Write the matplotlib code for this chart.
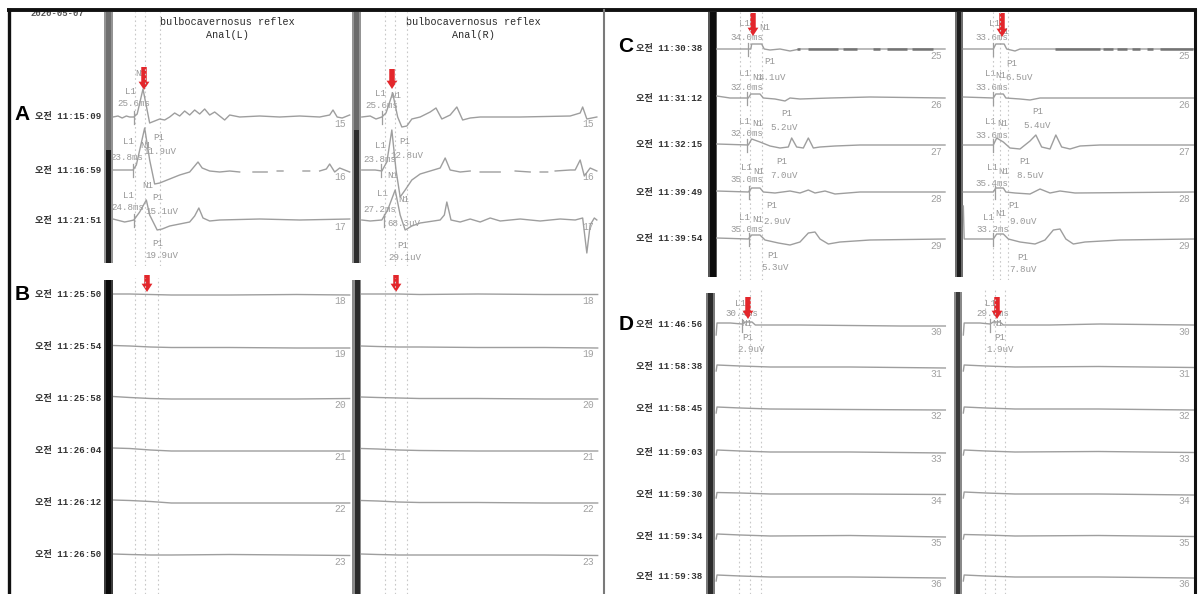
import numpy as np
import matplotlib
matplotlib.use("Agg")
import matplotlib.pyplot as plt
from matplotlib.patches import Rectangle

nan = np.nan

# ======================= DATA =======================
DATE = "2020-05-07"
TITLE = "bulbocavernosus reflex"
SIDES = ["Anal(L)", "Anal(R)"]
PANELS = ["A", "B", "C", "D"]

A_times = ["오전 11:15:09", "오전 11:16:59", "오전 11:21:51"]
B_times = ["오전 11:25:50", "오전 11:25:54", "오전 11:25:58", "오전 11:26:04",
           "오전 11:26:12", "오전 11:26:50"]
C_times = ["오전 11:30:38", "오전 11:31:12", "오전 11:32:15", "오전 11:39:49",
           "오전 11:39:54"]
D_times = ["오전 11:46:56", "오전 11:58:38", "오전 11:58:45", "오전 11:59:03",
           "오전 11:59:30", "오전 11:59:34", "오전 11:59:38"]

A_nums = ["15", "16", "17"]
B_nums = ["18", "19", "20", "21", "22", "23"]
C_nums = ["25", "26", "27", "28", "29"]
D_nums = ["30", "31", "32", "33", "34", "35", "36"]

AL_lat = ["25.6ms", "23.8ms", "24.8ms"]
AL_amp = ["11.9uV", "15.1uV", "19.9uV"]
AR_lat = ["25.6ms", "23.8ms", "27.2ms"]
AR_amp = ["12.8uV", "68.3uV", "29.1uV"]
CL_lat = ["34.0ms", "32.0ms", "32.0ms", "35.0ms", "35.0ms"]
CL_amp = ["4.1uV", "5.2uV", "7.0uV", "2.9uV", "5.3uV"]
CR_lat = ["33.6ms", "33.6ms", "33.6ms", "35.4ms", "33.2ms"]
CR_amp = ["6.5uV", "5.4uV", "8.5uV", "9.0uV", "7.8uV"]
DL_lat = ["30.4ms"]
DL_amp = ["2.9uV"]
DR_lat = ["29.6ms"]
DR_amp = ["1.9uV"]

# waveforms: time (ms) and deflection (display units, up = positive)
AL_t = [
    [0, 6, 11, 16, 20, 25, 29, 36, 44, 50, 56, 62, 68, 74, 80, 86, 92, 98, 104, 110,
     116, 122, 134, 140, 152, 176, 200, 224, 248, 260, 264, 269, 275, 284],
    [0, 14, 24, 28, 38, 44, 50, 56, 68, 80, 92, 98, 102, 107, 116, 128, 140, 152, nan,
     168, 185, nan, 197, 204, nan, 228, 236, nan, 248, 256, 260, 266, 272, 284],
    [0, 14, 20, 25, 32, 40, 44, 53, 59, 68, 80, 92, 98, 103, 108, 116, 128, 176, 224, 284],
]
AL_a = [
    [0, 1, -1, 1, 0, 0, 3, 28, -6, -4, -2, -3, 0, 4, 1, 6, 2, 7, 3, 8,
     2, 5, -3, 2, 0, 1, 0, 1, 0, 2, 7, 0, -1, 2],
    [0, 0, 0, 5, 42, 10, -14, -13, -9, -5, -2, 4, 8, 2, -1, -2, -1, -2, nan,
     -2, -2, nan, -1, -1, nan, -1, -1, nan, -1, 1, 6, -2, 2, -2],
    [1, -2, -1, 0, 8, 20, 5, -10, -9, -6, -4, -2, 4, 12, 2, -1, 0, 1, 0, 1],
]
AR_t = [
    [1, 11, 18, 25, 30, 38, 44, 49, 55, 61, 71, 83, 90, 97, 107, 115, 122, 131, 143, 191,
     251, 263, 266, 271, 283],
    [1, 17, 25, 31, 37, 42, 47, 53, 61, 71, 83, 95, 101, 107, 119, 131, nan, 143, 167, nan,
     185, 203, nan, 215, 224, nan, 233, 251, 257, 263, 268, 275, 283],
    [1, 11, 25, 32, 41, 47, 53, 61, 71, 95, 100, 103, 108, 119, 131, 143, 155, 167, 191, 215,
     239, 257, 266, 271, 275, 280, 283],
]
AR_a = [
    [0, 1, -2, 0, 4, 24, 0, -10, -9, -2, 0, 5, 9, -2, 2, 10, -3, -1, 0, 0,
     1, 4, 10, -2, 0],
    [0, 0, -1, 8, 40, 0, -27, -20, -10, -4, -1, 2, 12, 0, -2, -1, nan, -2, -2, nan,
     -1, -2, nan, -2, -2, nan, -1, 0, 0, 10, -6, 2, -1],
    [0, -1, 0, 10, 30, 5, -10, -6, -3, 0, 5, 18, 0, -2, 1, -2, 2, -1, 1, -1,
     1, 0, 2, -33, -5, 2, 0],
]
B_t = [0, 20, 45, 70, 140, 220, 284]
BL_a = [[0, 0, -0.5, -1, -1, -0.5, -1],
        [1.5, 1, 0, -0.5, -0.5, -1, -1],
        [1.5, 0.5, -0.5, -1, -1, -1, -0.5],
        [2, 1.5, 0, -1, -1, -1, -1],
        [2, 1.5, 0.5, -1, -1, -1, -1],
        [1, 0.5, 0, 0, 0.5, 0, -0.5]]
BR_a = [[0, 0, 0, -0.5, 0, -0.5, -0.5],
        [1, 0.5, 0, 0, -0.5, -0.5, -1],
        [1, 0.5, 0, -0.5, -0.5, -1, -1],
        [1.5, 1, 0, -0.5, -1, -1, -1],
        [1.5, 1, 0, -0.5, -0.5, -1, -1],
        [1, 0.5, 0, 0, 0, 0, -0.5]]
CL_t = [
    [-4, 24, 34, 37, 38, 50, 53, 60, 72, 84, 96, 156, 216, 270],
    [-4, 12, 34, 37, 48, 52, 66, 78, 84, 96, 132, 180, 270],
    [-4, 34, 38, 48, 60, 72, 82, 86, 92, 100, 106, 112, 120, 138, 168, 270],
    [-4, 34, 38, 48, 52, 66, 84, 96, 106, 114, 126, 138, 168, 270],
    [-4, 34, 38, 48, 54, 70, 84, 96, 106, 114, 120, 130, 144, 180, 270],
]
CL_a = [
    [0, 0, 0, 0, 5, 5, 0, -1, 0, -2, 0, 0, 0, 0],
    [2, 0, 0, 4, 4, 0, -1, -3, 0, -1, 0, 1, 0],
    [1, 0, 6, 3, -1, -3, -2, 7, -2, -3, 7, -3, -2, -1, 0, 0],
    [1, 0, 4, 4, 0, -1, 1, -1, 2, -1, 1, -2, 0, 0],
    [1, 0, 4, 4, -1, -4, -6, -3, 6, 7, 0, -5, -3, -1, 0],
]
CL_drop = [(92, 96), (106, 142), (148, 164), (184, 192), (200, 224), (230, 256)]
CR_t = [
    [-2, 34, 37, 47, 50, 60, 66, 102, 274],
    [-2, 34, 37, 46, 49, 66, 78, 90, 274],
    [-2, 34, 38, 46, 54, 66, 78, 85, 92, 102, 109, 116, 126, 138, 162, 274],
    [-2, 34, 37, 46, 49, 60, 78, 90, 102, 114, 132, 274],
    [-2, -1, 34, 38, 46, 52, 66, 84, 96, 106, 114, 121, 130, 144, 186, 274],
]
CR_a = [
    [0, 0, 5, 5, 0, -2, 0, 0, 0],
    [1, 0, 4, 4, 0, -1, -2, 0, 0],
    [0, 0, 7, 3, -3, -4, 4, 10, -2, -4, 10, -2, -4, -1, 0, 0],
    [0, 0, 4, 4, 0, -1, -2, 3, -1, 1, -1, 0],
    [33, 0, 0, 5, 5, 0, -3, -5, -1, 9, 10, 0, -5, -3, -1, 0],
]
CR_drop = [(108, 162), (166, 178), (182, 194), (200, 210), (218, 226), (234, 274)]
DL_t = [[-1, 0, 16, 30, 34, 42, 46, 100, 220, 274]] + [[-1, 0, 28, 64, 160, 274]] * 6
DL_a = [[-10, 2, 2, 1, 3, 3, 0, 0, -1, -1],
        [-4, 2, 1, 0, 0, -1],
        [-4, 2, 1, 0, -0.5, -1],
        [-3, 2, 1, 0, 0, -1],
        [-4, 1.5, 1, 0, 0, -0.5],
        [-3, 2, 1, 0, 0.5, -1],
        [-4, 2, 1, 0, 0, -1]]
DR_t = [[-2, -1, 18, 30, 34, 42, 46, 102, 162, 274]] + [[-2, -1, 25, 60, 160, 274]] * 6
DR_a = [[-10, 2, 2, 1, 3, 3, 0, 0, 1, 0],
        [-4, 2, 1, 0, 0.5, -0.5],
        [-4, 2, 1, 0, 0, -1],
        [-3, 2, 1, 0, 0.5, -0.5],
        [-4, 2, 1, 0, 0, -1],
        [-3, 1.5, 1, 0, 0.5, -0.5],
        [-4, 2, 1, 0, 0, -1]]

# ======================= LAYOUT / STYLE =======================
W, H = 1198, 594
MS = 1.2                      # ms per pixel of sweep
TRACE = "#9e9e9e"
ANN = "#979797"
MONO = "Liberation Mono"
KRMONO = ["Liberation Mono", "Noto Sans CJK KR", "DejaVu Sans"]
AFS = 6.6                     # annotation font size

A_base = [117, 170, 220]
B_base = [294, 347, 398, 450, 502, 555]
C_base = [49, 98, 145, 192, 239]
D_base = [325, 367, 409, 452, 494, 536, 577]

fig = plt.figure(figsize=(W / 100, H / 100), dpi=100)
bg = fig.add_axes([0, 0, 1, 1])
bg.set_xlim(0, W)
bg.set_ylim(H, 0)
bg.axis("off")


def col_axes(xa, xb, ya, yb, x0):
    ax = fig.add_axes([xa / W, 1 - yb / H, (xb - xa) / W, (yb - ya) / H])
    ax.set_xlim((xa - x0) * MS, (xb - x0) * MS)
    ax.set_ylim(yb, ya)
    ax.axis("off")
    return ax


# ---- stimulator bars (grey/black vertical strips) ----
bars = [
    (104, 113, 106, 111, 12, 263, "#949494", [(12, 150, "#707070"), (150, 263, "#1c1c1c")]),
    (352, 361, 354, 359, 12, 263, "#949494", [(12, 130, "#6a6a6a"), (130, 263, "#2e2e2e")]),
    (104, 113, 106, 111, 280, 594, "#3c3c3c", [(280, 594, "#0a0a0a")]),
    (352, 361, 355, 360, 280, 594, "#8a8a8a", [(280, 594, "#2a2a2a")]),
    (708, 717, 710, 716, 12, 277, "#555555", [(12, 277, "#0c0c0c")]),
    (955, 963, 957, 961, 12, 277, "#6e6e6e", [(12, 277, "#1e1e1e")]),
    (706, 715, 708, 713, 293, 594, "#7a7a7a", [(293, 594, "#2c2c2c")]),
    (954, 962, 956, 960, 292, 594, "#8a8a8a", [(292, 594, "#3a3a3a")]),
]
for xo0, xo1, xi0, xi1, y0, y1, oc, inner in bars:
    bg.add_patch(Rectangle((xo0, y0), xo1 - xo0, y1 - y0, color=oc, lw=0, zorder=2))
    for yy0, yy1, ic in inner:
        bg.add_patch(Rectangle((xi0, yy0), xi1 - xi0, yy1 - yy0, color=ic, lw=0, zorder=3))

# ---- columns ----
cols = [
    dict(xa=113, xb=352, ya=12, yb=266, x0=113, t=AL_t, a=AL_a, base=A_base,
         dots=[26, 38, 56], lat=AL_lat, nums=A_nums, numx=340),
    dict(xa=361, xb=600, ya=12, yb=266, x0=361, t=AR_t, a=AR_a, base=A_base,
         dots=[29, 41, 55], lat=AR_lat, nums=A_nums, numx=588),
    dict(xa=113, xb=352, ya=278, yb=594, x0=113, t=[B_t] * 6, a=BL_a, base=B_base,
         dots=[26, 38, 54], lat=None, nums=B_nums, numx=340),
    dict(xa=361, xb=600, ya=278, yb=594, x0=361, t=[B_t] * 6, a=BR_a, base=B_base,
         dots=[29, 41, 55], lat=None, nums=B_nums, numx=588),
    dict(xa=716, xb=950, ya=12, yb=280, x0=720, t=CL_t, a=CL_a, base=C_base,
         dots=[24, 36, 50], lat=CL_lat, nums=C_nums, numx=936, drop=CL_drop),
    dict(xa=962, xb=1194, ya=12, yb=280, x0=965, t=CR_t, a=CR_a, base=C_base,
         dots=[34, 42, 52], lat=CR_lat, nums=C_nums, numx=1184, drop=CR_drop),
    dict(xa=714, xb=950, ya=290, yb=594, x0=717, t=DL_t, a=DL_a, base=D_base,
         dots=[26, 40, 53], lat=DL_lat, nums=D_nums, numx=936),
    dict(xa=962, xb=1194, ya=290, yb=594, x0=965, t=DR_t, a=DR_a, base=D_base,
         dots=[24, 36, 48], lat=DR_lat, nums=D_nums, numx=1184),
]

for c in cols:
    ax = col_axes(c["xa"], c["xb"], c["ya"], c["yb"], c["x0"])
    for d in c["dots"]:
        ax.axvline(d, color="#c8c8c8", lw=0.8, ls=(0, (1.5, 2.5)), zorder=1)
    for k, (t, a) in enumerate(zip(c["t"], c["a"])):
        b = c["base"][k]
        ax.plot(np.asarray(t, float), b - np.asarray(a, float), color=TRACE, lw=1.0,
                solid_joinstyle="round", zorder=3)
        if c["lat"] is not None and k < len(c["lat"]):
            tl = float(c["lat"][k][:-2])
            ax.plot([tl, tl], [b - 6, b + 7], color=TRACE, lw=0.9, zorder=3)
        bg.text(c["numx"], b + 7, c["nums"][k], fontfamily=MONO, fontsize=7,
                color="#a2a2a2", ha="center", va="center")
    if "drop" in c:
        for t1, t2 in c["drop"]:
            ax.hlines(c["base"][0], t1, t2, color="#747474", lw=1.8, zorder=4)

# ---- annotation labels (L1 / latency / N1 / P1 / amplitude) ----
ann = [
    (AL_lat, AL_amp,
     [(130, 92), (129, 142), (129, 195)], [(134, 103), (127, 157), (128, 207)],
     [(141, 73), (146, 146), (148, 186)], [(159, 137), (158, 197), (158, 243)],
     [(160, 152), (162, 211), (162, 255)]),
    (AR_lat, AR_amp,
     [(381, 93), (381, 146), (382, 193)], [(382, 106), (380, 159), (380, 210)],
     [(396, 96), (393, 175), (404, 200)], [(405, 142), None, (403, 245)],
     [(407, 155), (404, 224), (405, 257)]),
    (CL_lat, CL_amp,
     [(744, 24), (744, 74), (744, 121), (746, 167), (744, 217)],
     [(747, 37), (747, 87), (747, 133), (747, 180), (747, 229)],
     [(765, 28), (758, 78), (758, 123), (759, 171), (758, 219)],
     [(770, 61), (787, 114), (782, 161), (772, 205), (773, 255)],
     [(772, 77), (784, 127), (784, 175), (777, 221), (775, 268)]),
    (CR_lat, CR_amp,
     [(994, 24), (991, 74), (991, 122), (992, 168), (989, 217)],
     [(992, 37), (992, 87), (992, 136), (992, 183), (993, 230)],
     [(1004, 31), (1001, 75), (1003, 124), (1004, 171), (1001, 213)],
     [(1012, 64), (1038, 112), (1025, 162), (1014, 205), (1023, 257)],
     [(1019, 78), (1037, 126), (1030, 175), (1023, 222), (1023, 270)]),
    (DL_lat, DL_amp, [(740, 304)], [(742, 313)], [(747, 323)], [(748, 338)], [(751, 350)]),
    (DR_lat, DR_amp, [(990, 303)], [(993, 313)], [(998, 323)], [(1000, 337)], [(1000, 350)]),
]
for lat, amp, pL, pLat, pN, pP, pA in ann:
    for k in range(len(lat)):
        for pos, s in ((pL[k], "L1"), (pLat[k], lat[k]), (pN[k], "N1"),
                       (pP[k], "P1"), (pA[k], amp[k])):
            if pos is None:
                continue
            bg.text(pos[0], pos[1], s, fontfamily=MONO, fontsize=AFS, color=ANN,
                    ha="center", va="center", zorder=5)

# ---- red stimulus arrows ----
arrows = [(144, 67, 90), (392, 69, 89), (147, 275, 292), (396, 275, 292),
          (753, 13, 36), (1002, 13, 37), (748, 297, 319), (997, 297, 319)]
for x, y0, y1 in arrows:
    bg.annotate("", xy=(x, y1), xytext=(x, y0),
                arrowprops=dict(arrowstyle="simple,head_length=0.5,head_width=0.65,tail_width=0.33",
                                color="#e3262b", lw=0, shrinkA=0, shrinkB=0,
                                mutation_scale=12), zorder=8)

# ---- timestamps & panel letters ----
for times, base, xr in ((A_times, A_base, 101), (B_times, B_base, 101),
                        (C_times, C_base, 702), (D_times, D_base, 702)):
    for s, b in zip(times, base):
        bg.text(xr, b, s, family=KRMONO, fontsize=6.6, fontweight="bold", color="#333333",
                ha="right", va="center")
for s, (x, y) in zip(PANELS, [(22, 114), (22, 295), (626, 47), (626, 324)]):
    bg.text(x, y, s, fontfamily="Liberation Sans", fontsize=15, fontweight="bold",
            color="black", ha="center", va="center")

# ---- titles ----
for cx, side in zip((227, 473), SIDES):
    bg.text(cx, 22, TITLE, fontfamily=MONO, fontsize=7.3, color="#2a2a2a",
            ha="center", va="center")
    bg.text(cx, 35, side, fontfamily=MONO, fontsize=7.3, color="#2a2a2a",
            ha="center", va="center")
bg.text(57, 14, DATE, fontfamily=MONO, fontsize=6.5, fontweight="bold",
        color="#555555", ha="center", va="center", zorder=1)

# ---- frame ----
bg.plot([7, 1197], [10, 10], color="#111111", lw=2.8, zorder=10, solid_capstyle="butt")
bg.plot([8.5, 8.5], [10, 594], color="#111111", lw=2.4, zorder=10)
bg.plot([1195, 1195], [10, 594], color="#111111", lw=2.2, zorder=10)
bg.plot([603.5, 603.5], [10, 594], color="#7a7a7a", lw=1.5, zorder=10)

fig.savefig("out.png", dpi=100)
